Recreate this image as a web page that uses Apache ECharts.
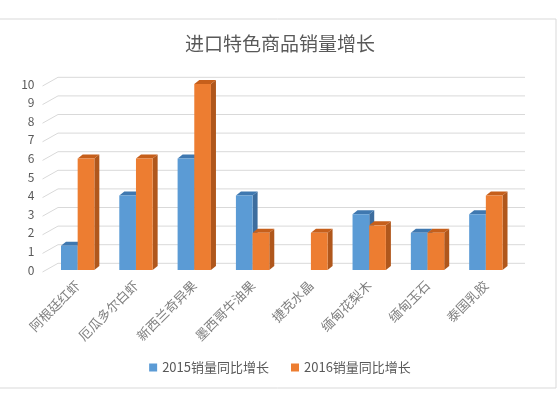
<!DOCTYPE html>
<html><head><meta charset="utf-8">
<script src="https://cdn.jsdelivr.net/npm/echarts@6/dist/echarts.min.js"></script>
<style>html,body{margin:0;padding:0;background:#fff}#c{width:560px;height:393px}</style>
</head><body><div id="c"></div>
<script>
const title = '进口特色商品销量增长';
const categories = ['阿根廷红虾','厄瓜多尔白虾','新西兰奇异果','墨西哥牛油果','捷克水晶','缅甸花梨木','缅甸玉石','泰国乳胶'];
const seriesNames = ['2015销量同比增长','2016销量同比增长'];
const values2015 = [1.3, 4, 6, 4, null, 3, 2, 3];
const values2016 = [6, 6, 10, 2, 2, 2.4, 2, 4];
const yTicks = [0,1,2,3,4,5,6,7,8,9,10];

const chart = echarts.init(document.getElementById('c'));
const DX = 5, DY = 4;
function bar3d(offsetSide, front, top, side) {
  return function (params, api) {
    const cat = api.value(0), val = api.value(1);
    if (val == null || isNaN(val) || val <= 0) return;
    const base = api.coord([cat, 0]);
    const t = api.coord([cat, val]);
    const bw = api.size([1, 0])[0] * 0.286;
    const x0 = offsetSide < 0 ? base[0] - bw : base[0];
    const x1 = x0 + bw, yt = t[1], yb = base[1];
    return {
      type: 'group',
      children: [
        { type: 'polygon', shape: { points: [[x1, yt], [x1 + DX, yt - DY], [x1 + DX, yb - DY], [x1, yb]] }, style: { fill: side } },
        { type: 'polygon', shape: { points: [[x0, yt], [x0 + DX, yt - DY], [x1 + DX, yt - DY], [x1, yt]] }, style: { fill: top } },
        { type: 'rect', shape: { x: x0, y: yt, width: bw, height: yb - yt }, style: { fill: front } }
      ]
    };
  };
}
function gridRender(params, api) {
  const v = api.value(1);
  const p = api.coord([0, v]);
  const cs = params.coordSys;
  const y = p[1];
  return {
    type: 'polyline',
    shape: { points: [[cs.x - 6, y + 2], [cs.x + 9.5, y - 6.7], [cs.x + cs.width + 10, y - 6.7]] },
    style: { stroke: '#d9d9d9', lineWidth: 1, fill: null }
  };
}
chart.setOption({
  animation: false,
  textStyle: { fontFamily: '"Noto Sans CJK SC", "Noto Sans", sans-serif' },
  title: { text: title, left: 'center', top: 29, textStyle: { fontSize: 19, fontWeight: 'normal', color: '#595959' } },
  graphic: [{ type: 'rect', shape: { x: -2, y: 19, width: 558, height: 369 }, style: { fill: null, stroke: '#d9d9d9', lineWidth: 1 }, silent: true }],
  legend: {
    bottom: 14, left: 'center', itemWidth: 8, itemHeight: 8, itemGap: 22, icon: 'rect',
    textStyle: { fontSize: 13, color: '#595959' },
    data: seriesNames
  },
  grid: { left: 48.5, right: 45, top: 84, bottom: 123 },
  xAxis: {
    type: 'category', data: categories,
    axisLine: { show: false }, axisTick: { show: false },
    axisLabel: { rotate: 45, fontSize: 13, color: '#7f7f7f', margin: 13, interval: 0 }
  },
  yAxis: {
    type: 'value', min: 0, max: 10, interval: 1,
    splitLine: { show: false }, axisLine: { show: false }, axisTick: { show: false },
    axisLabel: { fontSize: 12, color: '#595959', margin: 14, padding: [3, 0, 0, 0] }
  },
  series: [
    { type: 'custom', name: 'grid', z: 1, silent: true, renderItem: gridRender, data: yTicks.map(v => [0, v]) },
    { type: 'custom', name: seriesNames[0], z: 2, itemStyle: { color: '#5b9bd5' },
      renderItem: bar3d(-1, '#5b9bd5', '#3f78b0', '#3d6d9e'),
      data: values2015.map((v, i) => [i, v]) },
    { type: 'custom', name: seriesNames[1], z: 3, itemStyle: { color: '#ed7d31' },
      renderItem: bar3d(1, '#ed7d31', '#c65f1b', '#b0571c'),
      data: values2016.map((v, i) => [i, v]) }
  ]
});
</script></body></html>
